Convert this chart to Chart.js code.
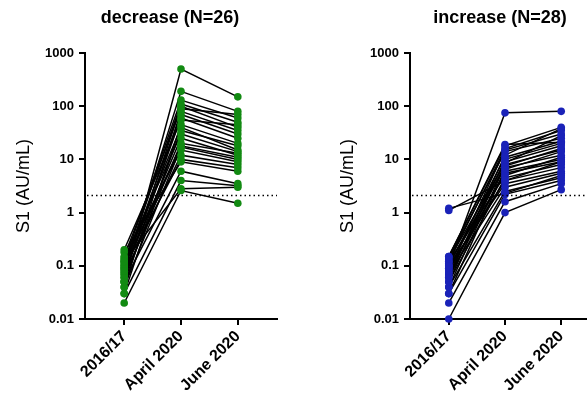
<!DOCTYPE html>
<html>
<head>
<meta charset="utf-8">
<script src="https://cdn.jsdelivr.net/npm/chart.js@4/dist/chart.umd.min.js"></script>
<style>
  html, body { margin: 0; padding: 0; background: #fff; }
  #wrap { position: relative; width: 587px; height: 408px; overflow: hidden; }
  #wrap canvas { position: absolute; top: 0; }
  #left { left: 0; }
  #right { left: 320px; }
</style>
</head>
<body>
<div id="wrap">
  <canvas id="left" width="340" height="408"></canvas>
  <canvas id="right" width="360" height="408"></canvas>
</div>
<script>
// Timepoints and axis ticks
const timepoints = ["2016/17", "April 2020", "June 2020"];
const yTicks = [0.01, 0.1, 1, 10, 100, 1000];
const cutoff = 2.1;

// "decrease" group, S1 (AU/mL) per subject at each timepoint
const decPre  = [0.05, 0.08, 0.12, 0.10, 0.06, 0.15, 0.04, 0.09, 0.07, 0.20, 0.03, 0.11, 0.05,
                 0.13, 0.08, 0.06, 0.10, 0.04, 0.14, 0.07, 0.09, 0.18, 0.05, 0.03, 0.12, 0.02];
const decApr  = [500, 190, 130, 110, 100, 90, 80, 70, 60, 55, 45, 40, 35,
                 30, 25, 20, 18, 17, 15, 12, 10, 9, 6, 4, 2.8, 2.6];
const decJun  = [150, 80, 60, 50, 40, 70, 35, 30, 25, 45, 20, 15, 18,
                 14, 12, 13, 11, 10, 9, 8, 7, 6, 3.5, 3.2, 3.0, 1.5];

// "increase" group
const incPre  = [0.10, 1.2, 1.1, 0.15, 0.12, 0.08, 0.14, 0.06, 0.10, 0.05, 0.09, 0.13, 0.07, 0.04,
                 0.11, 0.03, 0.06, 0.08, 0.12, 0.05, 0.09, 0.10, 0.07, 0.04, 0.03, 0.02, 0.01, 0.15];
const incApr  = [75, 2.3, 4, 18, 16, 15, 14, 12, 11, 10, 9, 8.5, 8, 7.5,
                 7, 6.5, 6, 5.5, 5, 4.5, 4, 3.5, 3, 2.5, 2.2, 1.6, 1.0, 19];
const incJun  = [80, 5, 9, 40, 35, 30, 25, 38, 22, 20, 18, 28, 15, 16,
                 12, 14, 10, 9, 11, 8, 7, 6, 5.5, 4.5, 4, 3.5, 2.7, 21];

const GREEN = "#128a12";
const BLUE = "#1a22b8";
const FONT = "'Liberation Sans', Arial, sans-serif";

// dotted threshold line across the plot area
const cutoffLine = {
    id: "cutoffLine",
    afterDatasetsDraw(chart) {
        const { ctx, chartArea } = chart;
        const y = chart.scales.y.getPixelForValue(cutoff);
        ctx.save();
        ctx.strokeStyle = "#000";
        ctx.lineWidth = 1.5;
        ctx.setLineDash([1.5, 3]);
        ctx.beginPath();
        ctx.moveTo(chartArea.left + 2, y);
        ctx.lineTo(chartArea.right, y);
        ctx.stroke();
        ctx.restore();
    }
};

// panel heading, placed a little left of the plot centre
const panelTitle = {
    id: "panelTitle",
    afterDraw(chart, args, opts) {
        const { ctx } = chart;
        ctx.save();
        ctx.fillStyle = "#000";
        ctx.font = "bold 18px " + FONT;
        ctx.textAlign = "center";
        ctx.textBaseline = "middle";
        ctx.fillText(opts.text, opts.x, 18);
        ctx.restore();
    }
};

function buildDatasets(pre, apr, jun, color) {
    const lines = [];
    const dots = [];
    for (let i = 0; i < pre.length; i++) {
        const pts = [{ x: 0, y: pre[i] }, { x: 1, y: apr[i] }, { x: 2, y: jun[i] }];
        lines.push({
            data: pts,
            borderColor: "#000",
            borderWidth: 1.5,
            pointRadius: 0,
            showLine: true,
            clip: false,
            order: 1
        });
        // markers go on top of every connecting line
        dots.push({
            data: pts,
            showLine: false,
            pointRadius: 3.8,
            pointBackgroundColor: color,
            pointBorderColor: color,
            pointBorderWidth: 0,
            clip: false,
            order: 0
        });
    }
    return lines.concat(dots);
}

function makeChart(canvasId, title, titleX, datasets, yWidth, titlePad, rightPad) {
    return new Chart(document.getElementById(canvasId), {
        type: "scatter",
        data: { datasets },
        plugins: [cutoffLine, panelTitle],
        options: {
            responsive: false,
            animation: false,
            events: [],
            layout: { padding: { left: 0, right: rightPad, top: 53, bottom: 0 } },
            plugins: {
                legend: { display: false },
                tooltip: { enabled: false },
                title: { display: false },
                panelTitle: { text: title, x: titleX }
            },
            scales: {
                x: {
                    type: "linear",
                    min: -0.69,
                    max: 2.69,
                    afterBuildTicks: (s) => { s.ticks = [0, 1, 2].map(v => ({ value: v })); },
                    afterFit: (s) => { s.height = 89; },
                    grid: {
                        drawOnChartArea: false,
                        drawTicks: true,
                        tickLength: 6,
                        color: "#000",
                        lineWidth: 2
                    },
                    border: { color: "#000", width: 2 },
                    ticks: {
                        color: "#000",
                        font: { family: FONT, size: 16, weight: "bold" },
                        minRotation: 45,
                        maxRotation: 45,
                        padding: 2,
                        callback: (v) => timepoints[v]
                    }
                },
                y: {
                    type: "logarithmic",
                    min: 0.01,
                    max: 1000,
                    afterBuildTicks: (s) => { s.ticks = yTicks.map(v => ({ value: v, major: true })); },
                    afterFit: (s) => { s.width = yWidth; },
                    grid: {
                        drawOnChartArea: false,
                        drawTicks: true,
                        tickLength: 6,
                        color: "#000",
                        lineWidth: 2
                    },
                    border: { color: "#000", width: 2 },
                    ticks: {
                        color: "#000",
                        font: { family: FONT, size: 13, weight: "bold" },
                        padding: 5,
                        callback: (v) => String(v)
                    },
                    title: {
                        display: true,
                        text: "S1 (AU/mL)",
                        color: "#000",
                        font: { family: FONT, size: 18 },
                        padding: { top: titlePad, bottom: 0 }
                    }
                }
            }
        }
    });
}

makeChart("left", "decrease (N=26)", 170, buildDatasets(decPre, decApr, decJun, GREEN), 85, 13, 63);
makeChart("right", "increase (N=28)", 180, buildDatasets(incPre, incApr, incJun, BLUE), 90, 17, 80);
</script>
</body>
</html>
